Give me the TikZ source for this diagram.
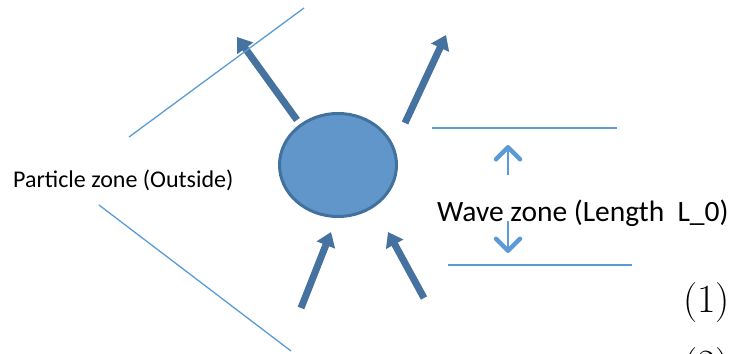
\documentclass[tikz,border=0pt]{standalone}
\usepackage{fontspec}
\newfontfamily\zonefont{Carlito}
\usetikzlibrary{arrows.meta,shapes.geometric}

\definecolor{coreblue}{RGB}{96,150,201}
\definecolor{rimblue}{RGB}{65,113,156}
\definecolor{rayblue}{RGB}{70,114,160}
\definecolor{lineblue}{RGB}{91,155,213}

\begin{document}
\begin{tikzpicture}[
    x=1pt, y=-1pt,
    core/.style={ellipse, draw=rimblue, line width=3pt, fill=coreblue, minimum width=117pt, minimum height=103pt, inner sep=0pt},
    ray/.style={draw=rayblue, line width=7pt, -{Triangle[width=19pt,length=14pt]}},
    border/.style={draw=lineblue, line width=1.3pt},
    span/.style={draw=lineblue, line width=2pt, -{Straight Barb[width=24pt,length=12pt,line width=4.5pt,round]}},
    zone label/.style={font=\zonefont\fontsize{24}{28}\selectfont, inner sep=0pt, anchor=base west},
    eq label/.style={font=\fontsize{40}{48}\selectfont, inner sep=0pt, anchor=base west}
]
\useasboundingbox (0,0) rectangle (730,353);
\clip (0,0) rectangle (730,353);

\node[core] (core) at (338,165) {};

% outgoing and incoming rays
\coordinate (r1s) at (297,120);
\coordinate (r1e) at (237,37);
\coordinate (r2s) at (405,123);
\coordinate (r2e) at (446,35);
\coordinate (r3s) at (301,308);
\coordinate (r3e) at (331,232);
\coordinate (r4s) at (424,298);
\coordinate (r4e) at (388,232);
\draw[ray] (r1s) -- (r1e);
\draw[ray] (r2s) -- (r2e);
\draw[ray] (r3s) -- (r3e);
\draw[ray] (r4s) -- (r4e);

% zone borders
\coordinate (cone1a) at (129,137);
\coordinate (cone1b) at (304,8);
\coordinate (cone2a) at (99,205);
\coordinate (cone2b) at (291,351);
\coordinate (wave1a) at (432,128);
\coordinate (wave1b) at (617,128);
\coordinate (wave2a) at (448,265);
\coordinate (wave2b) at (632,265);
\draw[border] (cone1a) -- (cone1b);
\draw[border] (cone2a) -- (cone2b);
\draw[border] (wave1a) -- (wave1b);
\draw[border] (wave2a) -- (wave2b);

\coordinate (up1) at (508,175);
\coordinate (up2) at (508,145);
\coordinate (dn1) at (508,221);
\coordinate (dn2) at (508,253);
\draw[span] (up1) -- (up2);
\draw[span] (dn1) -- (dn2);

\node[zone label] (particle) at (13,187) {Particle zone (Outside)};
\node[zone label, font=\zonefont\fontsize{29.5}{34}\selectfont] (wave) at (437,221) {Wave zone (Length\ \ L\_0)};

\node[eq label] (eq1) at (683,312) {(1)};
\node[eq label] (eq2) at (683,377) {(2)};

\end{tikzpicture}
\end{document}
